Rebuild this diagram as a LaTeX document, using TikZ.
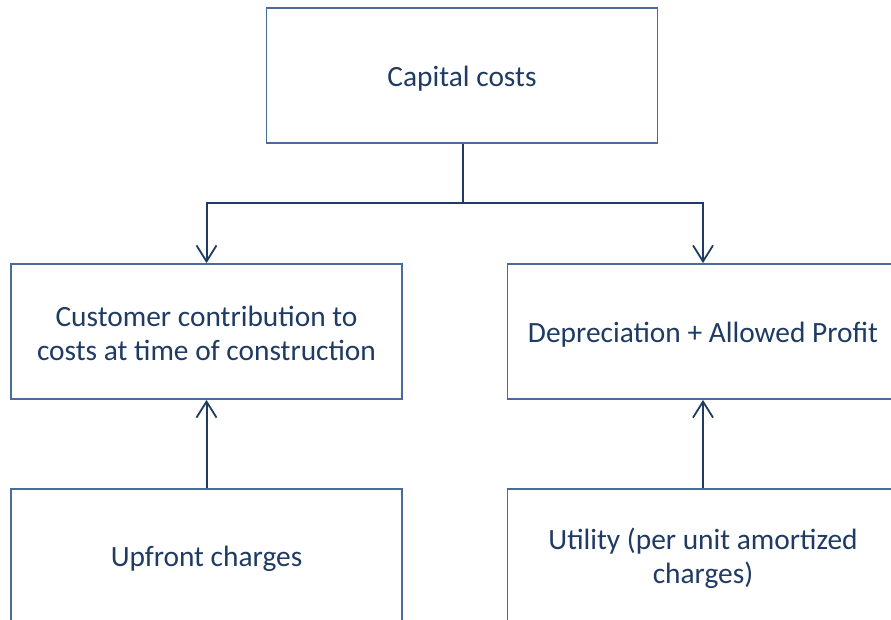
\documentclass[tikz,border=0pt]{standalone}
\usepackage{fontspec}
\setmainfont{Carlito}
\usetikzlibrary{arrows.meta}
\definecolor{boxline}{HTML}{4A6B9B}
\definecolor{ink}{HTML}{1F3B63}
\tikzset{
  box/.style={draw=boxline, line width=1.8bp, minimum width=391bp, minimum height=135bp,
    inner sep=0pt},
  boxtext/.style={inner sep=0pt, align=center, text=ink, font=\fontsize{29.5}{34}\selectfont},
  link/.style={draw=ink, line width=2bp},
  tip/.style={link, -{Straight Barb[length=16bp,width=20bp,line width=1.8bp]}}
}
\begin{document}
\begin{tikzpicture}[x=1bp,y=-1bp]
  \useasboundingbox (0,0) rectangle (891,620);
  \clip (0,0) rectangle (891,620);
  \fill[white] (0,0) rectangle (891,620);
  % boxes
  \node[box] (cap) at (462,75.5) {};
  \node[box] (cust) at (206.5,331.5) {};
  \node[box] (dep) at (703,331.5) {};
  \node[box] (up) at (206.5,556.5) {};
  \node[box] (util) at (703,556.5) {};
  % box labels
  \node[boxtext] (cap-t) at ([yshift=-3bp]cap.center) {Capital costs};
  \node[boxtext] (cust-t) at ([yshift=-1.5bp]cust.center) {Customer contribution to\\costs at time of construction};
  \node[boxtext] (dep-t) at ([yshift=-3bp]dep.center) {Depreciation + Allowed Profit};
  \node[boxtext] (up-t) at ([yshift=-2bp]up.center) {Upfront charges};
  \node[boxtext] (util-t) at ([yshift=-2bp]util.center) {Utility (per unit amortized\\charges)};
  % split from the top box
  \coordinate (fork) at (463,203);
  \draw[link, line width=2.8bp] (cap.south -| fork) -- (fork);
  \draw[tip] (fork) -| (cust.north);
  \draw[tip] (fork) -| (dep.north);
  % feeds from below
  \draw[tip] (up.north) -- (cust.south);
  \draw[tip] (util.north) -- (dep.south);
\end{tikzpicture}
\end{document}
